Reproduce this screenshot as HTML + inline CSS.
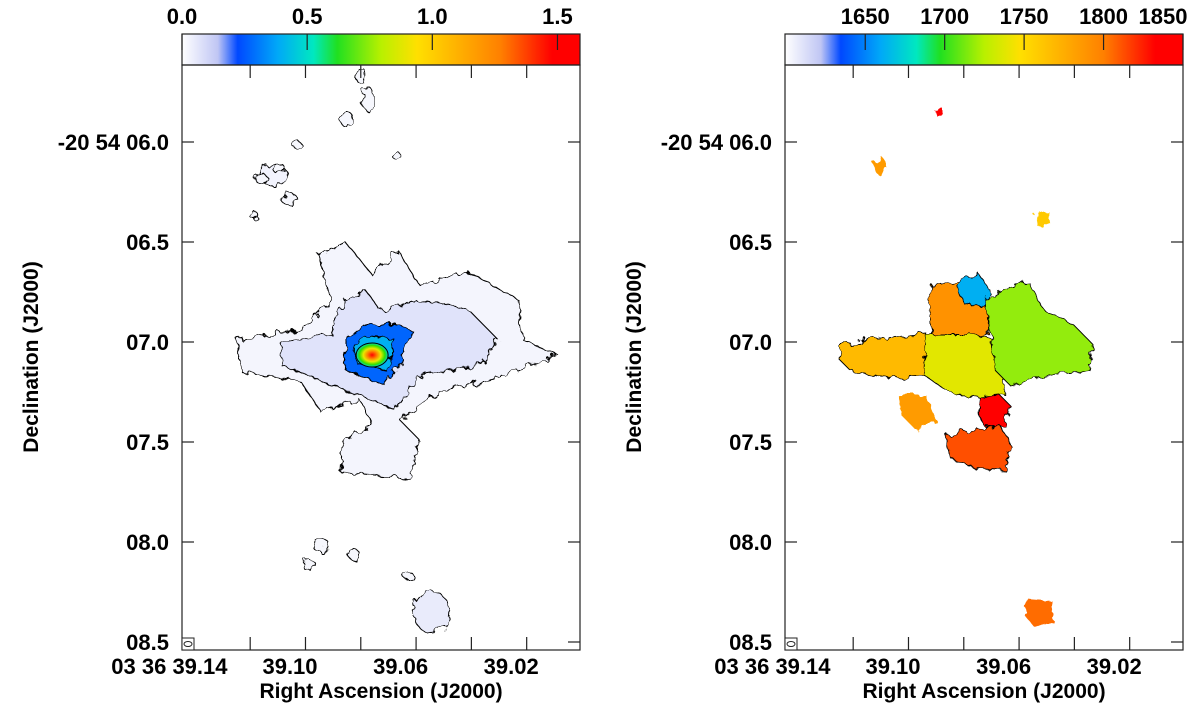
<!DOCTYPE html>
<html><head><meta charset="utf-8"><style>
html,body{margin:0;padding:0;background:#fff;}
svg{display:block;font-family:"Liberation Sans",Arial,sans-serif;font-weight:bold;}
</style></head><body>
<svg id="fig" width="1200" height="712" viewBox="0 0 1200 712">
<defs>
<filter id="rough" x="-10%" y="-10%" width="120%" height="120%">
<feTurbulence type="fractalNoise" baseFrequency="0.12" numOctaves="2" seed="3"/>
<feDisplacementMap in="SourceGraphic" scale="10"/>
</filter>
<linearGradient id="cmap" x1="0" x2="1" y1="0" y2="0"></linearGradient>
<radialGradient id="coreGrad" cx="0.5" cy="0.5" r="0.5">
<stop offset="0" stop-color="#ff0000"/><stop offset="0.3" stop-color="#ff8000"/><stop offset="0.55" stop-color="#e8e800"/><stop offset="0.8" stop-color="#30e000"/><stop offset="1" stop-color="#00d0d0"/>
</radialGradient>
</defs>
<g id="panels"></g>
</svg>
<script>
// ---- data ----
const cmapStops = [0, 0.09, 0.14, 0.24, 0.33, 0.39, 0.5, 0.59, 0.8, 0.93, 1];
const cmapColors = ["#ffffff","#c0c6f4","#0048ff","#00a8f8","#00e8c0","#20e020","#b8f000","#ffe000","#ff8000","#ff0000","#ff0000"];
const decTicks = [6.0, 6.5, 7.0, 7.5, 8.0, 8.5];
const decLabels = ["-20 54 06.0", "06.5", "07.0", "07.5", "08.0", "08.5"];
const raLabelVals = [39.14, 39.10, 39.06, 39.02];
const raLabels = ["03 36 39.14", "39.10", "39.06", "39.02"];
const raMinorTicks = [39.1144, 39.0944, 39.0744, 39.0544, 39.0344, 39.0144];
const intTicks = [0.0, 0.5, 1.0, 1.5];
const intLabels = ["0.0", "0.5", "1.0", "1.5"];
const intRange = [0, 1.59];
const velTicks = [1650, 1700, 1750, 1800, 1850];
const velLabels = ["1650", "1700", "1750", "1800", "1850"];
const velRange = [1599.5, 1850];
const centerRA = 39.0703, centerDec = 7.065;
// intensity map: contour regions (offsets in mas east / north of centre), levels
const intLevels = [0.025, 0.07, 0.27, 0.4];
const intShapes = [
 [[685,75],[360,125],[210,275],[270,500],[135,565],[0,400],[-130,525],[-240,350],[-490,415],[-740,275],[-765,75],[-940,0],[-640,-115],[-340,-185],[-140,-325],[-240,-425],[-190,-615],[160,-585],[150,-435],[0,-350],[60,-225],[260,-285],[360,-135],[660,-85]],
 [[460,65],[210,100],[135,275],[35,325],[-40,225],[-240,275],[-490,225],[-640,75],[-540,-50],[-240,-100],[-115,-275],[0,-225],[210,-150],[460,-50]],
 [[135,75],[35,150],[-140,150],[-200,125],[-140,-50],[-65,-150],[135,-75]],
 [[85,50],[10,100],[-115,75],[-80,-85],[85,-35]]
];
// isolated intensity clumps: east, north (mas), rx, ry (mas), level
const clumpE = [-300, 260, 500, 420, 20, 130, -180, 320, 90, 560, 470, 60, -120, 380, 600];
const clumpN = [-1285, -950, 900, 780, 1280, 1180, -1100, -1050, -1000, 880, 930, 1400, 1000, 1050, 700];
const clumpRx = [90, 40, 70, 40, 30, 30, 25, 30, 30, 30, 30, 25, 20, 20, 20];
const clumpRy = [105, 35, 55, 30, 60, 40, 20, 30, 25, 25, 25, 40, 20, 20, 20];
const clumpLvl = [0.05, 0.02, 0.03, 0.02, 0.02, 0.02, 0.02, 0.02, 0.02, 0.02, 0.02, 0.02, 0.02, 0.02, 0.02];
// velocity map regions
const velValues = [1790, 1768, 1738, 1718, 1662, 1850, 1812, 1785, 1805, 1785, 1850, 1760];
const velShapes = [
 [[225,350],[75,365],[-50,275],[-75,125],[0,50],[100,75],[200,50],[235,175]],
 [[690,50],[475,85],[250,110],[225,-100],[425,-115],[625,-85],[685,-25]],
 [[250,100],[0,100],[-150,75],[-150,-200],[0,-215],[150,-175],[260,-100]],
 [[-50,275],[-175,350],[-275,360],[-350,225],[-500,150],[-600,50],[-575,-75],[-375,-100],[-175,-150],[-100,-75],[-75,125]],
 [[75,385],[-25,400],[-75,325],[-50,240],[50,250],[85,315]],
 [[-25,-210],[-125,-200],[-175,-250],[-150,-350],[-50,-360],[-15,-285]],
 [[150,-400],[0,-375],[-125,-350],[-185,-450],[-150,-575],[0,-565],[125,-515]],
 [[390,-200],[250,-200],[200,-325],[300,-375],[375,-300]],
 [[-260,-1220],[-390,-1230],[-400,-1330],[-300,-1360],[-250,-1300]],
 [[520,960],[470,990],[440,930],[490,900]],
 [[200,1220],[170,1240],[160,1200],[190,1190]],
 [[-300,700],[-370,720],[-380,660],[-320,640]]
];
// ---- helpers ----
const NS = "http://www.w3.org/2000/svg";
const root = document.getElementById("panels");
function el(tag, attrs, parent){ const e=document.createElementNS(NS,tag); for(const k in attrs) e.setAttribute(k,attrs[k]); (parent||root).appendChild(e); return e; }
function hex2rgb(h){ return [1,3,5].map(i=>parseInt(h.substr(i,2),16)); }
function cmap(f){ f=Math.max(0,Math.min(1,f)); for(let i=1;i<cmapStops.length;i++){ if(f<=cmapStops[i]){ const t=(f-cmapStops[i-1])/(cmapStops[i]-cmapStops[i-1]||1); const a=hex2rgb(cmapColors[i-1]), b=hex2rgb(cmapColors[i]); return "rgb("+a.map((v,j)=>Math.round(v+(b[j]-v)*t)).join(",")+")"; } } return cmapColors[cmapColors.length-1]; }
const grad = document.getElementById("cmap");
cmapStops.forEach((s,i)=>el("stop",{offset:s,"stop-color":cmapColors[i]},grad));
const FL=182, FR=580, FT=65, FB=650;
function xScale(ra, off){ return 179.4 + (39.14 - ra) * 2765 + off; }
function yScale(dec){ return 142 + (dec - 6.0) * 200; }
function off2xy(e, n, off){ const ra = centerRA + e/1000/14.01; const dec = centerDec - n/1000; return [xScale(ra,off), yScale(dec)]; }
function poly(pts, off){ return pts.map(p=>off2xy(p[0],p[1],off).map(v=>v.toFixed(1)).join(",")).join(" "); }

function drawPanel(off, isVel){
  const g = el("g",{});
  
  
  const cb = el("rect",{x:FL+off,y:34,width:FR-FL,height:31,fill:"url(#cmap)",stroke:"#222","stroke-width":1.2},g);
  
  
  const rng = isVel ? velRange : intRange, tks = isVel ? velTicks : intTicks, lbs = isVel ? velLabels : intLabels;
  tks.forEach((t,i)=>{
    const x = FL+off + (t-rng[0])/(rng[1]-rng[0])*(FR-FL);
    el("line",{x1:x,x2:x,y1:34,y2:50,stroke:"#222","stroke-width":1.2},g);
    const tx = el("text",{x:(i===tks.length-1 && isVel)? x-20 : x,y:24,"text-anchor":"middle","font-size":22,fill:"#000"},g);
    tx.textContent = lbs[i];
    
    
  });
  const m = el("g",{filter:"url(#rough)"},g);
  
  
  if(!isVel){
    intShapes.forEach((s,i)=>{
      const p = el("polygon",{points:poly(s,off),fill:cmap(intLevels[i]/intRange[1]),stroke:"#000","stroke-width":1.1},m);
      
      
    });
    clumpE.forEach((e,i)=>{
      const c = off2xy(e, clumpN[i], off);
      const k = el("ellipse",{cx:c[0],cy:c[1],rx:clumpRx[i]/5,ry:clumpRy[i]/5,fill:cmap(clumpLvl[i]/intRange[1]),stroke:"#000","stroke-width":1},m);
      
      
    });
    const c0 = off2xy(0,0,off);
    const core = el("ellipse",{cx:c0[0],cy:c0[1],rx:16,ry:12,fill:"url(#coreGrad)",stroke:"#000","stroke-width":1},g);
    
    
  } else {
    velShapes.forEach((s,i)=>{
      const p = el("polygon",{points:poly(s,off),fill:cmap((velValues[i]-velRange[0])/(velRange[1]-velRange[0])),stroke:i<7?"#000":"none","stroke-width":0.9},m);
      
      
    });
  }
  const fr = el("rect",{x:FL+off,y:FT,width:FR-FL,height:FB-FT,fill:"none",stroke:"#222","stroke-width":1.2},g);
  
  
  raMinorTicks.forEach(r=>{
    const x = xScale(r,off);
    el("line",{x1:x,x2:x,y1:FT,y2:FT+13,stroke:"#222","stroke-width":1.2},g);
    el("line",{x1:x,x2:x,y1:FB,y2:FB-13,stroke:"#222","stroke-width":1.2},g);
  });
  decTicks.forEach((d,i)=>{
    const y = yScale(d);
    el("line",{x1:FL+off,x2:FL+off+12,y1:y,y2:y,stroke:"#222","stroke-width":1.2},g);
    el("line",{x1:FR+off,x2:FR+off-12,y1:y,y2:y,stroke:"#222","stroke-width":1.2},g);
    const tx = el("text",{x:FL+off-13,y:y+8,"text-anchor":"end","font-size":22,fill:"#000"},g);
    tx.textContent = decLabels[i];
    
    
  });
  raLabelVals.forEach((r,i)=>{
    const x = xScale(r,off) + (i===0? -10:0);
    const tx = el("text",{x:x,y:674,"text-anchor":"middle","font-size":22,fill:"#000"},g);
    tx.textContent = raLabels[i];
    
    
  });
  const bm = el("rect",{x:FL+off,y:FB-12,width:12,height:12,fill:"#fff",stroke:"#222","stroke-width":1},g);
  
  
  el("ellipse",{cx:FL+off+6,cy:FB-6,rx:4,ry:2.5,fill:"none",stroke:"#222","stroke-width":1},g);
  const xt = el("text",{x:(FL+FR)/2+off,y:698,"text-anchor":"middle","font-size":21,fill:"#000"},g);
  xt.textContent = "Right Ascension (J2000)";
  
  
  const yt = el("text",{x:0,y:0,"text-anchor":"middle","font-size":21,fill:"#000",transform:"translate("+(38+off)+",357) rotate(-90)"},g);
  yt.textContent = "Declination (J2000)";
  
  
}
drawPanel(0,false);
drawPanel(603,true);
</script>
</body></html>
